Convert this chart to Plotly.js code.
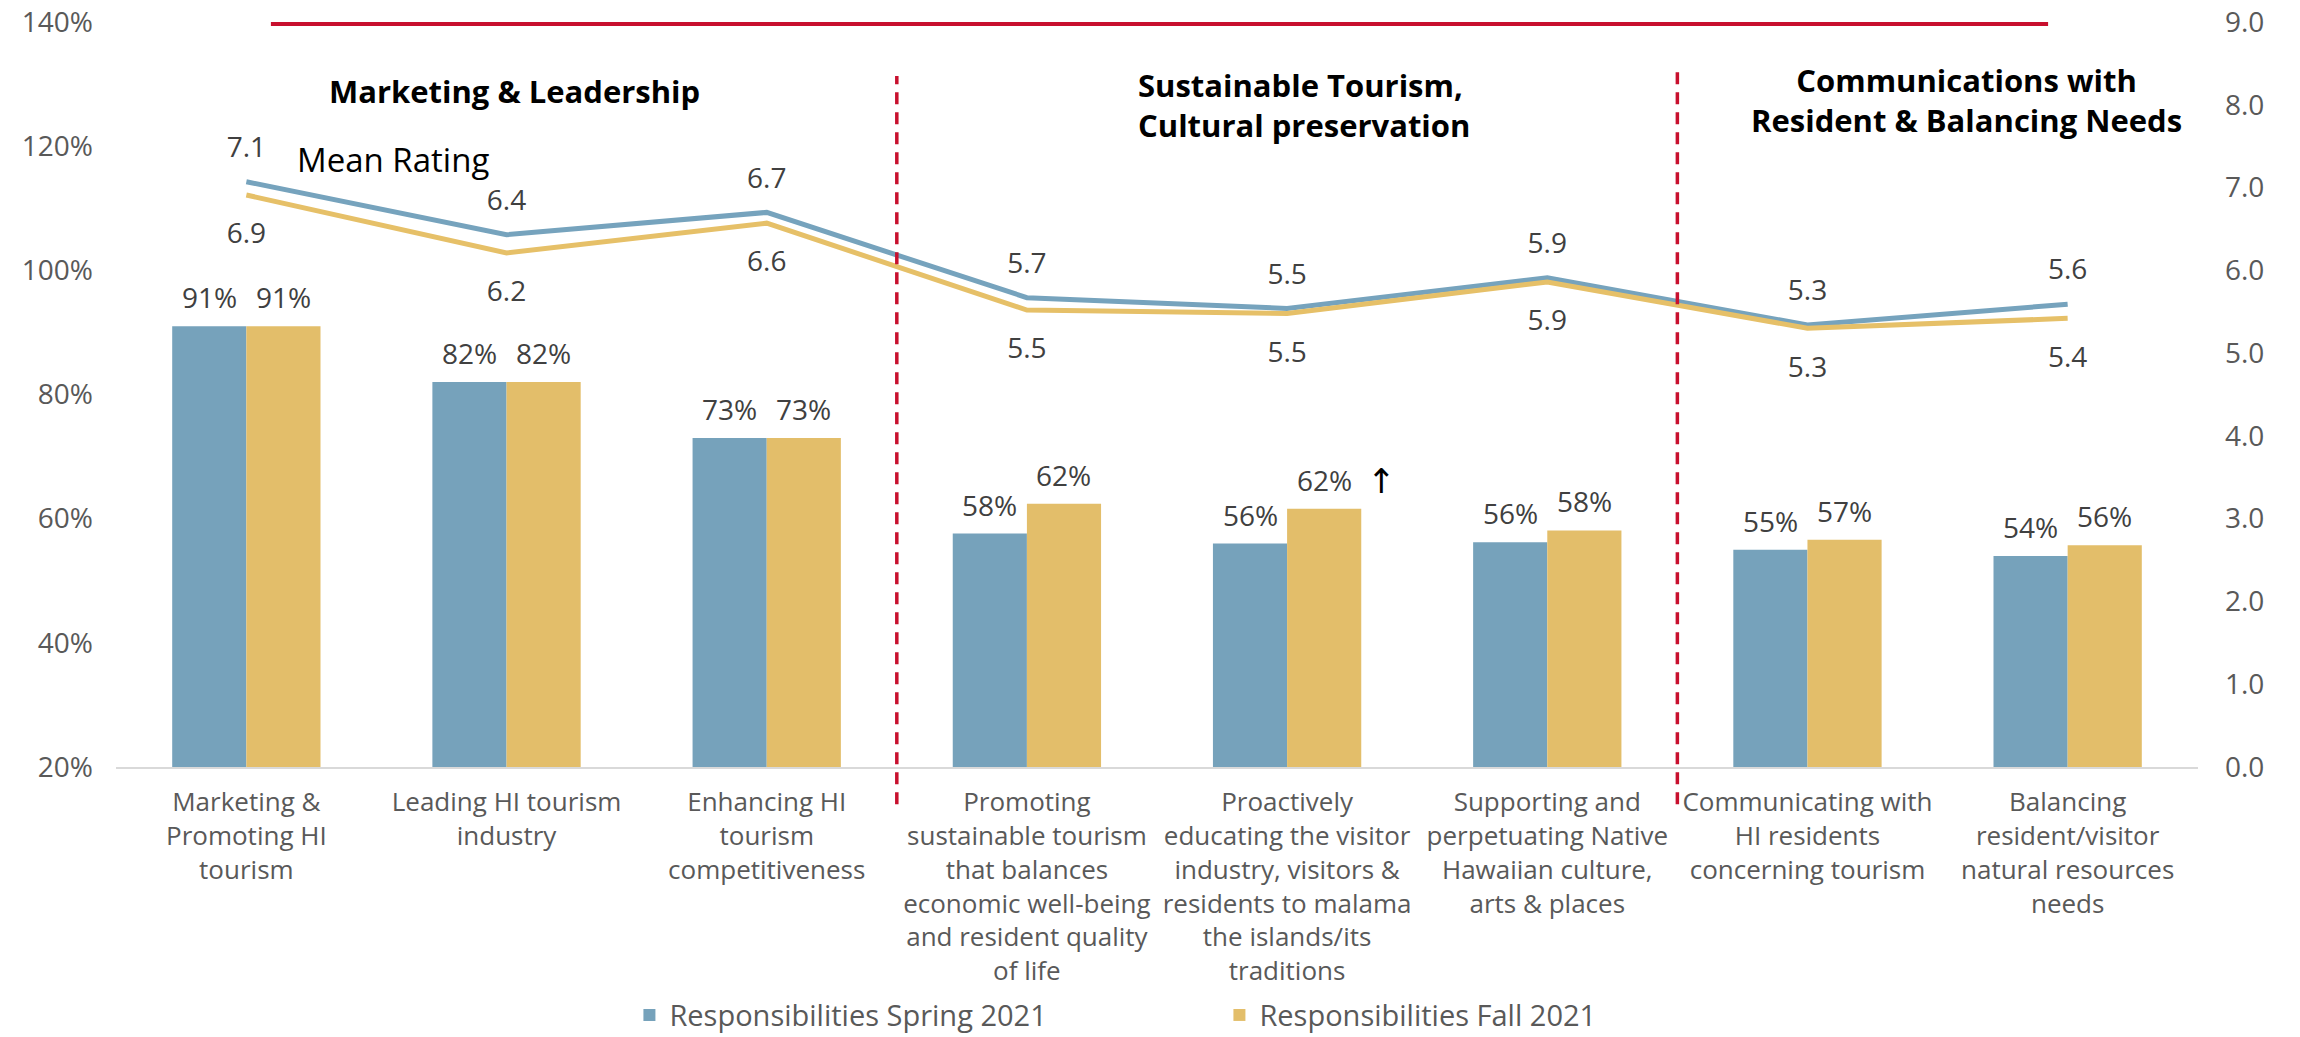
<!DOCTYPE html>
<html>
<head>
<meta charset="utf-8">
<script src="https://cdn.plot.ly/plotly-3.0.1.min.js"></script>
<style>html,body{margin:0;padding:0;background:#fff;}#chart{width:2300px;height:1037px;}</style>
</head>
<body>
<div id="chart"></div>
<script>
// ---- data ----
var categories = ["Marketing & Promoting HI tourism", "Leading HI tourism industry", "Enhancing HI tourism competitiveness",
  "Promoting sustainable tourism", "Proactively educating", "Supporting Native Hawaiian culture",
  "Communicating with HI residents", "Balancing resident/visitor needs"];
var tickLabels = [
  "Marketing &<br>Promoting HI<br>tourism",
  "Leading HI tourism<br>industry",
  "Enhancing HI<br>tourism<br>competitiveness",
  "Promoting<br>sustainable tourism<br>that balances<br>economic well-being<br>and resident quality<br>of life",
  "Proactively<br>educating the visitor<br>industry, visitors &<br>residents to malama<br>the islands/its<br>traditions",
  "Supporting and<br>perpetuating Native<br>Hawaiian culture,<br>arts & places",
  "Communicating with<br>HI residents<br>concerning tourism",
  "Balancing<br>resident/visitor<br>natural resources<br>needs"
];
var respSpring = [91, 82, 73, 57.6, 56, 56.2, 55, 54];
var respFall   = [91, 82, 73, 62.4, 61.6, 58.1, 56.6, 55.7];
var meanSpring = [7.07, 6.43, 6.70, 5.67, 5.54, 5.91, 5.34, 5.59];
var meanFall   = [6.91, 6.21, 6.57, 5.52, 5.48, 5.86, 5.30, 5.42];
var seriesNames = ["Responsibilities Spring 2021", "Responsibilities Fall 2021"];
var groupTitles = ["Marketing & Leadership", "Sustainable Tourism,<br>Cultural preservation", "Communications with<br>Resident & Balancing Needs"];
var lineTitle = "Mean Rating";
var leftTicks = [20, 40, 60, 80, 100, 120, 140];
var leftTickText = ["20%", "40%", "60%", "80%", "100%", "120%", "140%"];
var rightTicks = [0, 1, 2, 3, 4, 5, 6, 7, 8, 9];
var rightTickText = ["0.0", "1.0", "2.0", "3.0", "4.0", "5.0", "6.0", "7.0", "8.0", "9.0"];
var upArrowIndex = 4;

// ---- style ----
var FONT = "Open Sans, Liberation Sans, Arial, sans-serif";
var BLUE = "#76A2BB", YELLOW = "#E3BE6A";
var LBLUE = "#76A3BD", LYELLOW = "#E6C068";
var RED = "#C8102E";
var W = 2300, H = 1037, ML = 116, MR = 102, MT = 22, MB = 270;
var BARGAP = 0.43;
var catPx = (W - ML - MR) / categories.length;
var barOffsetPx = (1 - BARGAP) / 4 * catPx;

var traces = [
  {type: "bar", name: seriesNames[0], x: categories, y: respSpring, marker: {color: BLUE}},
  {type: "bar", name: seriesNames[1], x: categories, y: respFall, marker: {color: YELLOW}},
  {type: "scatter", mode: "lines+markers+text", x: categories, y: meanSpring, yaxis: "y2", showlegend: false,
   line: {color: LBLUE, width: 5}, marker: {size: 27, color: "rgba(0,0,0,0)", line: {width: 0}},
   texttemplate: "%{y:.1f}", textposition: "top center", cliponaxis: false,
   textfont: {family: FONT, size: 28, color: "#404040"}},
  {type: "scatter", mode: "lines+markers+text", x: categories, y: meanFall, yaxis: "y2", showlegend: false,
   line: {color: LYELLOW, width: 5}, marker: {size: 42, color: "rgba(0,0,0,0)", line: {width: 0}},
   texttemplate: "%{y:.1f}", textposition: "bottom center", cliponaxis: false,
   textfont: {family: FONT, size: 28, color: "#404040"}}
];

var annotations = [
  {text: "<b>" + groupTitles[0] + "</b>", xref: "paper", yref: "paper", x: 0.1916, y: 0.907,
   xanchor: "center", yanchor: "middle", showarrow: false, font: {family: FONT, size: 31, color: "#000"}},
  {text: "<b>" + groupTitles[1] + "</b>", xref: "paper", yref: "paper", x: 0.4899, y: 0.8886, align: "left",
   xanchor: "left", yanchor: "middle", showarrow: false, font: {family: FONT, size: 31, color: "#000"}},
  {text: "<b>" + groupTitles[2] + "</b>", xref: "paper", yref: "paper", x: 0.889, y: 0.8953, align: "center",
   xanchor: "center", yanchor: "middle", showarrow: false, font: {family: FONT, size: 31, color: "#000"}},
  {text: lineTitle, xref: "paper", yref: "paper", x: 0.086, y: 0.8148, xanchor: "left", yanchor: "middle",
   showarrow: false, font: {family: FONT, size: 33, color: "#000"}},
  {text: "↑", xref: "x", yref: "y", x: upArrowIndex, y: respFall[upArrowIndex], xshift: 94, yshift: 28,
   xanchor: "center", yanchor: "middle", showarrow: false,
   font: {family: "DejaVu Sans, Liberation Sans, sans-serif", size: 34, color: "#000"}}
];
// bar value labels, placed through the axes
[[respSpring, -1], [respFall, 1]].forEach(function (pair) {
  pair[0].forEach(function (v, i) {
    annotations.push({text: Math.round(v) + "%", xref: "x", yref: "y", x: categories[i], y: v,
      xshift: pair[1] * barOffsetPx, yshift: 29, xanchor: "center", yanchor: "middle", showarrow: false,
      font: {family: FONT, size: 28, color: "#404040"}});
  });
});

var layout = {
  width: W, height: H,
  margin: {l: ML, r: MR, t: MT, b: MB, autoexpand: false},
  paper_bgcolor: "#fff", plot_bgcolor: "#fff",
  font: {family: FONT, color: "#595959"},
  barmode: "group", bargap: BARGAP, bargroupgap: 0,
  hovermode: false,
  xaxis: {type: "category", tickvals: categories, ticktext: tickLabels, showline: true, linecolor: "#D9D9D9", linewidth: 2,
          ticks: "", showgrid: false, zeroline: false, ticklabelstandoff: 11,
          tickfont: {family: FONT, size: 26, color: "#595959"}},
  yaxis: {range: [20, 140], tickmode: "array", tickvals: leftTicks, ticktext: leftTickText, showgrid: false, zeroline: false,
          showline: false, ticks: "", ticklabelstandoff: 22, tickfont: {family: FONT, size: 28, color: "#595959"}},
  yaxis2: {range: [0, 9], tickmode: "array", tickvals: rightTicks, ticktext: rightTickText, overlaying: "y", side: "right",
           showgrid: false, zeroline: false, showline: false, ticks: "", ticklabelstandoff: 26,
           tickfont: {family: FONT, size: 28, color: "#595959"}},
  legend: {orientation: "h", x: 0.2466, xanchor: "left", y: -0.333, yanchor: "middle",
           entrywidthmode: "pixels", entrywidth: 545, tracegroupgap: 0,
           font: {family: FONT, size: 29, color: "#595959"}, bgcolor: "rgba(0,0,0,0)"},
  shapes: [
    {type: "line", xref: "paper", yref: "paper", x0: 0.0744, x1: 0.928, y0: 0.9973, y1: 0.9973,
     line: {color: RED, width: 4}},
    {type: "line", xref: "x", yref: "paper", x0: 2.5, x1: 2.5, y0: -0.05, y1: 0.9275,
     line: {color: RED, width: 3.5, dash: "12px,8px"}},
    {type: "line", xref: "x", yref: "paper", x0: 5.5, x1: 5.5, y0: -0.05, y1: 0.933,
     line: {color: RED, width: 3.5, dash: "12px,8px"}}
  ],
  annotations: annotations
};

Plotly.newPlot("chart", traces, layout, {displayModeBar: false, staticPlot: true});
</script>
</body>
</html>
